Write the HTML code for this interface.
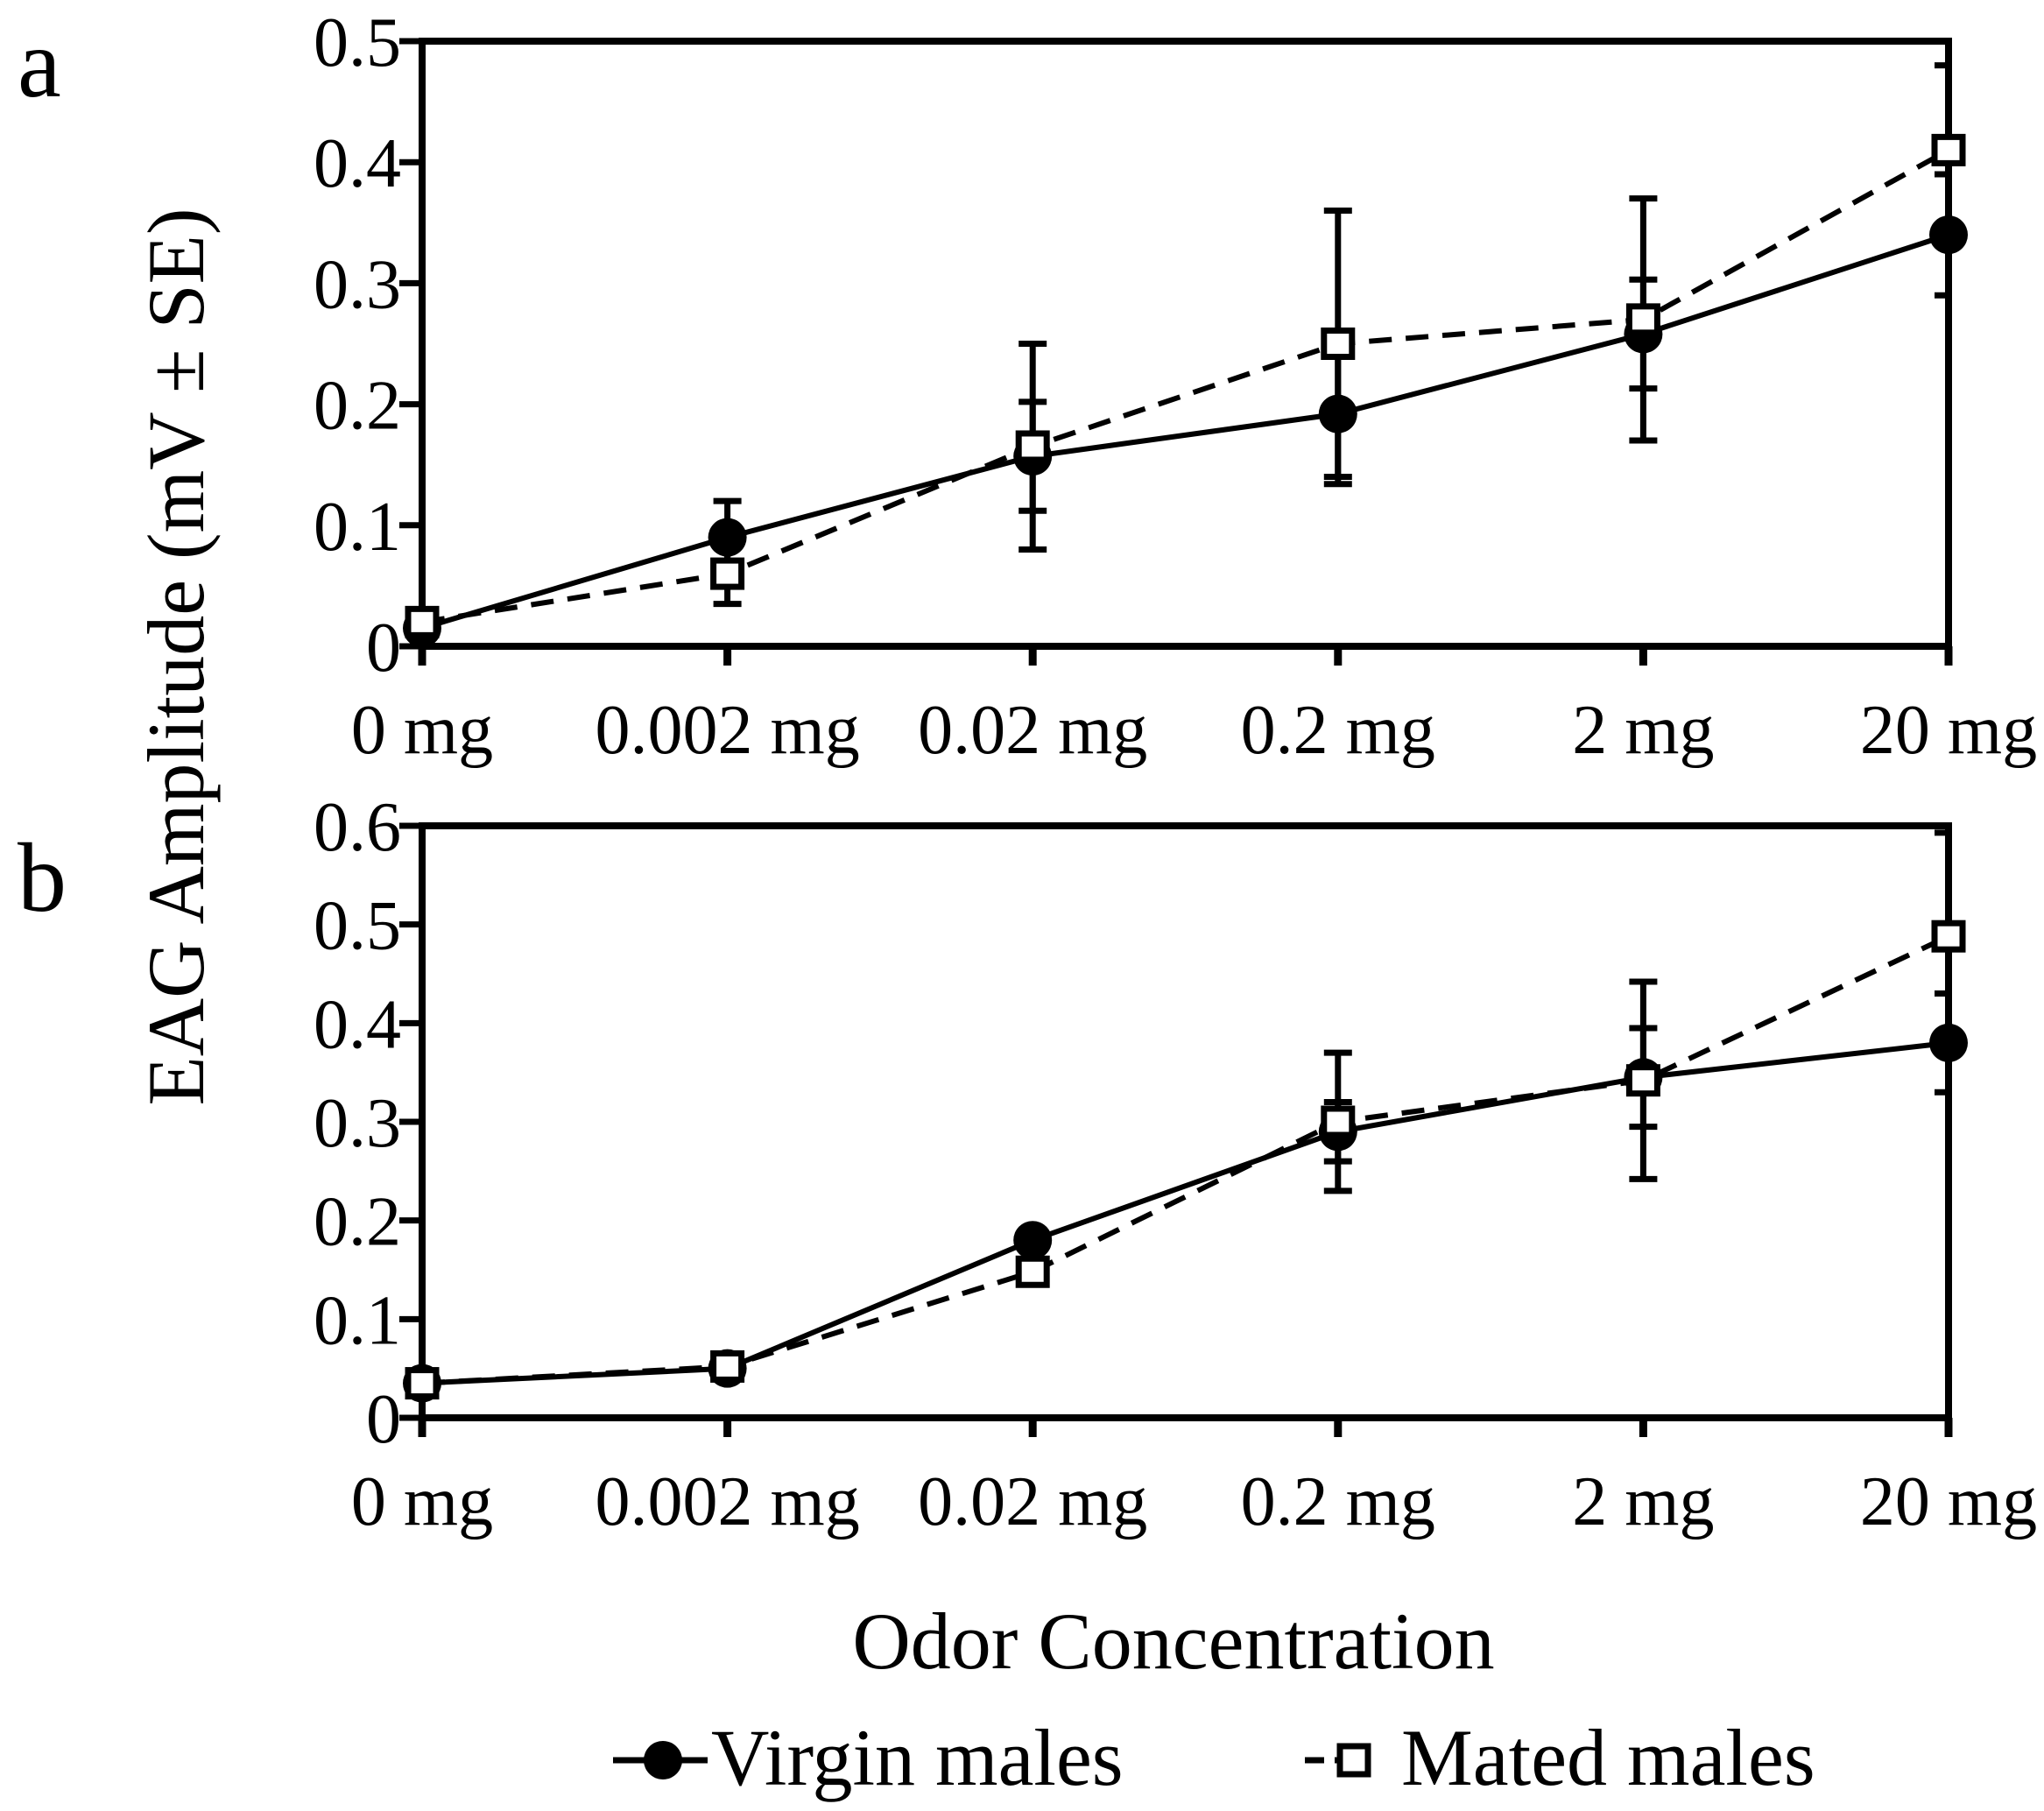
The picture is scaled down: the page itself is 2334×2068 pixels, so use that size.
<!DOCTYPE html>
<html><head><meta charset="utf-8"><style>
html,body{margin:0;padding:0;background:#fff}
svg{display:block}
text{font-family:"Liberation Serif",serif;fill:#000}
</style></head><body>
<svg id="chart" width="2334" height="2068" viewBox="0 0 2334 2068" xmlns="http://www.w3.org/2000/svg">
<defs>
<clipPath id="clipA"><rect x="470" y="40" width="1755" height="720"/></clipPath>
<clipPath id="clipB"><rect x="470" y="936" width="1755" height="700"/></clipPath>
</defs>
<text x="20" y="110" font-size="112">a</text>
<text x="20" y="1040" font-size="112">b</text>
<text transform="translate(232,750) rotate(-90)" text-anchor="middle" font-size="92">EAG Amplitude (mV ± SE)</text>
<text x="1340" y="1905" text-anchor="middle" font-size="92">Odor Concentration</text>
<g>
<g>
<line x1="700" y1="2010" x2="808" y2="2010" stroke="#000" stroke-width="7"/>
<circle cx="757" cy="2010" r="22" fill="#000"/>
<text x="812" y="2038" font-size="92">Virgin males</text>
</g>
<g>
<line x1="1490" y1="2010" x2="1535" y2="2010" stroke="#000" stroke-width="7" stroke-dasharray="22,12"/>
<rect x="1530" y="1994" width="32" height="32" fill="#fff" stroke="#000" stroke-width="7"/>
<text x="1600" y="2038" font-size="92">Mated males</text>
</g>
</g>
</svg>
<script>
const categories = ["0 mg","0.002 mg","0.02 mg","0.2 mg","2 mg","20 mg"];
const aVirgin = [0.015,0.09,0.157,0.192,0.258,0.34];
const aVirginSE = [0.005,0.03,0.045,0.058,0.045,0.05];
const aMated = [0.02,0.06,0.165,0.25,0.27,0.41];
const aMatedSE = [0.005,0.025,0.085,0.11,0.1,0.07];
const aTicks = [0,0.1,0.2,0.3,0.4,0.5];
const aTickLabels = ["0","0.1","0.2","0.3","0.4","0.5"];
const bVirgin = [0.035,0.05,0.18,0.29,0.345,0.38];
const bVirginSE = [0.005,0.005,0.01,0.03,0.05,0.05];
const bMated = [0.035,0.052,0.148,0.30,0.342,0.488];
const bMatedSE = [0.005,0.005,0.013,0.07,0.1,0.105];
const bTicks = [0,0.1,0.2,0.3,0.4,0.5,0.6];
const bTickLabels = ["0","0.1","0.2","0.3","0.4","0.5","0.6"];

const NS="http://www.w3.org/2000/svg";
const svg=document.getElementById('chart');
function mk(tag,attrs,parent){const e=document.createElementNS(NS,tag);for(const k in attrs)e.setAttribute(k,attrs[k]);(parent||svg).appendChild(e);return e;}
const X0=482,X1=2225;
function xs(i){return X0+(X1-X0)*i/(categories.length-1);}

function panel(name,clip,top,bottom,ymax,ticks,tickLabels,virg,virgSE,mated,matedSE){
  const g=mk('g',{});
  
  
  const ys=v=>bottom-(bottom-top)*v/ymax;
  const eg=mk('g',{'clip-path':'url(#'+clip+')'},g);
  
  
  function errs(vals,se,nm){
    vals.forEach((v,i)=>{
      const x=xs(i),y1=ys(v+se[i]),y2=ys(v-se[i]);
      const e=mk('path',{d:`M${x},${y1}V${y2}M${x-16},${y1}H${x+16}M${x-16},${y2}H${x+16}`,stroke:'#000','stroke-width':7,fill:'none'},eg);
      
      
    });
  }
  errs(mated,matedSE,'error-bar-mated');
  errs(virg,virgSE,'error-bar-virgin');
  const fr=mk('rect',{x:X0,y:top,width:X1-X0,height:bottom-top,fill:'none',stroke:'#000','stroke-width':8},g);
  
  
  ticks.forEach((t,i)=>{
    const y=ys(t);
    const tl=mk('line',{x1:X0-26,y1:y,x2:X0,y2:y,stroke:'#000','stroke-width':7},g);
    
    
    const tx=mk('text',{x:X0-24,y:y+28,'text-anchor':'end','font-size':80},g);
    tx.textContent=tickLabels[i];
    
    
  });
  categories.forEach((c,i)=>{
    const x=xs(i);
    const tl=mk('line',{x1:x,y1:bottom,x2:x,y2:bottom+22,stroke:'#000','stroke-width':9},g);
    
    
    const tx=mk('text',{x:x,y:bottom+122,'text-anchor':'middle','font-size':80},g);
    tx.textContent=c;
    
    
  });
  const lm=mk('polyline',{points:mated.map((v,i)=>xs(i)+','+ys(v)).join(' '),fill:'none',stroke:'#000','stroke-width':6,'stroke-dasharray':'26,16'},g);
  
  
  const lv=mk('polyline',{points:virg.map((v,i)=>xs(i)+','+ys(v)).join(' '),fill:'none',stroke:'#000','stroke-width':6},g);
  
  
  virg.forEach((v,i)=>{
    const c=mk('circle',{cx:xs(i),cy:ys(v),r:22,fill:'#000'},g);
    
    
  });
  mated.forEach((v,i)=>{
    const r=mk('rect',{x:xs(i)-16,y:ys(v)-15,width:32,height:30,fill:'#fff',stroke:'#000','stroke-width':7},g);
    
    
  });
}
panel('panel-a','clipA',47,738,0.5,aTicks,aTickLabels,aVirgin,aVirginSE,aMated,aMatedSE);
panel('panel-b','clipB',943,1619,0.6,bTicks,bTickLabels,bVirgin,bVirginSE,bMated,bMatedSE);
</script>
</body></html>
